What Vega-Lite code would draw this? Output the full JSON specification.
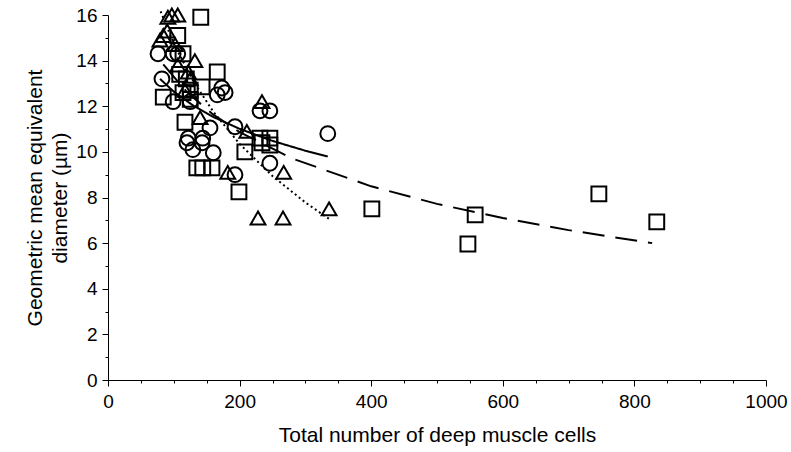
{
  "$schema": "https://vega.github.io/schema/vega-lite/v6.json",
  "width": 658,
  "height": 365,
  "autosize": {"type": "none"},
  "padding": {"left": 108, "top": 15, "right": 25, "bottom": 72},
  "background": "white",
  "config": {
    "view": {"stroke": null},
    "axis": {
      "grid": false,
      "domainColor": "black",
      "domainWidth": 1,
      "tickColor": "black",
      "tickWidth": 1,
      "labelColor": "black",
      "labelFont": "Liberation Sans",
      "labelFontSize": 19,
      "titleFont": "Liberation Sans",
      "titleFontSize": 21,
      "titleFontWeight": "normal",
      "titleColor": "black"
    }
  },
  "datasets": {
    "pts": [
      {"s": "triangle", "x": 91, "y": 15.9},
      {"s": "triangle", "x": 97, "y": 16.0},
      {"s": "triangle", "x": 106, "y": 16.0},
      {"s": "triangle", "x": 90, "y": 15.3},
      {"s": "triangle", "x": 84, "y": 15.1},
      {"s": "triangle", "x": 79, "y": 14.9},
      {"s": "triangle", "x": 102, "y": 14.7},
      {"s": "triangle", "x": 132, "y": 14.0},
      {"s": "triangle", "x": 106, "y": 13.8},
      {"s": "triangle", "x": 122, "y": 13.5},
      {"s": "triangle", "x": 125, "y": 13.2},
      {"s": "triangle", "x": 117, "y": 12.7},
      {"s": "triangle", "x": 234, "y": 12.2},
      {"s": "triangle", "x": 140, "y": 11.5},
      {"s": "triangle", "x": 211, "y": 10.9},
      {"s": "triangle", "x": 182, "y": 9.1},
      {"s": "triangle", "x": 267, "y": 9.1},
      {"s": "triangle", "x": 228, "y": 7.1},
      {"s": "triangle", "x": 266, "y": 7.1},
      {"s": "triangle", "x": 336, "y": 7.5},
      {"s": "circle", "x": 76, "y": 14.3},
      {"s": "circle", "x": 99, "y": 14.3},
      {"s": "circle", "x": 106, "y": 14.3},
      {"s": "circle", "x": 82, "y": 13.2},
      {"s": "circle", "x": 173, "y": 12.8},
      {"s": "circle", "x": 178, "y": 12.6},
      {"s": "circle", "x": 166, "y": 12.5},
      {"s": "circle", "x": 99, "y": 12.2},
      {"s": "circle", "x": 125, "y": 12.2},
      {"s": "circle", "x": 231, "y": 11.8},
      {"s": "circle", "x": 246, "y": 11.8},
      {"s": "circle", "x": 155, "y": 11.05},
      {"s": "circle", "x": 193, "y": 11.1},
      {"s": "circle", "x": 334, "y": 10.8},
      {"s": "circle", "x": 122, "y": 10.6},
      {"s": "circle", "x": 144, "y": 10.6},
      {"s": "circle", "x": 120, "y": 10.4},
      {"s": "circle", "x": 143, "y": 10.4},
      {"s": "circle", "x": 129, "y": 10.1},
      {"s": "circle", "x": 160, "y": 9.96},
      {"s": "circle", "x": 246, "y": 9.5},
      {"s": "circle", "x": 193, "y": 9.0},
      {"s": "square", "x": 141, "y": 15.9},
      {"s": "square", "x": 106, "y": 15.1},
      {"s": "square", "x": 114, "y": 14.3},
      {"s": "square", "x": 166, "y": 13.5},
      {"s": "square", "x": 109, "y": 13.4},
      {"s": "square", "x": 119, "y": 13.2},
      {"s": "square", "x": 143, "y": 12.85},
      {"s": "square", "x": 125, "y": 12.7},
      {"s": "square", "x": 114, "y": 12.6},
      {"s": "square", "x": 84, "y": 12.4},
      {"s": "square", "x": 125, "y": 12.3},
      {"s": "square", "x": 117, "y": 11.3},
      {"s": "square", "x": 231, "y": 10.6},
      {"s": "square", "x": 246, "y": 10.6},
      {"s": "square", "x": 234, "y": 10.4},
      {"s": "square", "x": 246, "y": 10.3},
      {"s": "square", "x": 208, "y": 10.0},
      {"s": "square", "x": 135, "y": 9.3},
      {"s": "square", "x": 144, "y": 9.3},
      {"s": "square", "x": 158, "y": 9.3},
      {"s": "square", "x": 199, "y": 8.25},
      {"s": "square", "x": 401, "y": 7.5},
      {"s": "square", "x": 558, "y": 7.24},
      {"s": "square", "x": 547, "y": 5.96},
      {"s": "square", "x": 746, "y": 8.16},
      {"s": "square", "x": 834, "y": 6.93}
    ],
    "fits": [
      {"s": "circle", "x": 79, "y": 13.2},
      {"s": "circle", "x": 100, "y": 12.64},
      {"s": "circle", "x": 130, "y": 12.02},
      {"s": "circle", "x": 160, "y": 11.53},
      {"s": "circle", "x": 200, "y": 11.01},
      {"s": "circle", "x": 250, "y": 10.48},
      {"s": "circle", "x": 300, "y": 10.05},
      {"s": "circle", "x": 334, "y": 9.8},
      {"s": "square", "x": 84, "y": 13.84},
      {"s": "square", "x": 120, "y": 12.62},
      {"s": "square", "x": 160, "y": 11.63},
      {"s": "square", "x": 200, "y": 10.87},
      {"s": "square", "x": 280, "y": 9.71},
      {"s": "square", "x": 400, "y": 8.49},
      {"s": "square", "x": 500, "y": 7.72},
      {"s": "square", "x": 600, "y": 7.1},
      {"s": "square", "x": 700, "y": 6.57},
      {"s": "square", "x": 827, "y": 6.0},
      {"s": "triangle", "x": 80, "y": 16.16},
      {"s": "triangle", "x": 100, "y": 14.74},
      {"s": "triangle", "x": 130, "y": 13.08},
      {"s": "triangle", "x": 160, "y": 11.76},
      {"s": "triangle", "x": 200, "y": 10.35},
      {"s": "triangle", "x": 250, "y": 8.94},
      {"s": "triangle", "x": 300, "y": 7.78},
      {"s": "triangle", "x": 336, "y": 7.06}
    ]
  },
  "encoding": {
    "x": {
      "field": "x", "type": "quantitative",
      "scale": {"domain": [0, 1000], "nice": false, "zero": true},
      "axis": {
        "title": "Total number of deep muscle cells",
        "format": "d",
        "labelFontSize": 19,
        "titleFontSize": 21,
        "values": [0,50,100,150,200,250,300,350,400,450,500,550,600,650,700,750,800,850,900,950,1000],
        "labelExpr": "datum.value % 200 === 0 ? format(datum.value, 'd') : ''",
        "tickSize": {"condition": {"test": "datum.value % 200 === 0", "value": 6}, "value": 3},
        "labelPadding": 6,
        "labelFlush": false,
        "titlePadding": 13
      }
    },
    "y": {
      "field": "y", "type": "quantitative",
      "scale": {"domain": [0, 16], "nice": false},
      "axis": {
        "title": ["Geometric mean equivalent", "diameter (µm)"],
        "format": "d",
        "labelFontSize": 19,
        "titleFontSize": 21,
        "values": [0,0.5,1,1.5,2,2.5,3,3.5,4,4.5,5,5.5,6,6.5,7,7.5,8,8.5,9,9.5,10,10.5,11,11.5,12,12.5,13,13.5,14,14.5,15,15.5,16],
        "labelExpr": "datum.value % 2 === 0 ? format(datum.value, 'd') : ''",
        "tickSize": {"condition": {"test": "datum.value % 2 === 0", "value": 6}, "value": 3},
        "labelPadding": 5,
        "labelFlush": false,
        "titlePadding": 5,
        "titleLineHeight": 25
      }
    }
  },
  "layer": [
    {
      "data": {"name": "fits"},
      "mark": {"type": "line", "color": "black", "strokeWidth": 2},
      "encoding": {
        "detail": {"field": "s"},
        "strokeDash": {
          "field": "s", "type": "nominal",
          "scale": {"domain": ["circle", "square", "triangle"], "range": [[1, 0], [22, 11], [2, 3]]},
          "legend": null
        }
      }
    },
    {
      "data": {"name": "pts"},
      "mark": {"type": "point", "filled": false, "color": "black", "strokeWidth": 2, "size": 220, "opacity": 1},
      "encoding": {
        "shape": {
          "field": "s", "type": "nominal",
          "scale": {"domain": ["circle", "square", "triangle"], "range": ["circle", "square", "triangle-up"]},
          "legend": null
        }
      }
    }
  ]
}
